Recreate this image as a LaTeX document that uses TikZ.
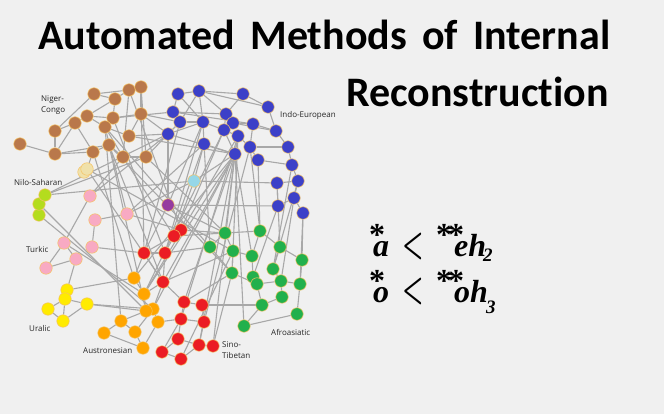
\documentclass[tikz,border=0pt]{standalone}
\usepackage{fontspec}
\newfontfamily\titlefont{Carlito}[Ligatures=NoCommon]
\newfontfamily\labelfont{Open Sans}
\newfontfamily\frmfont{Liberation Serif}
\usetikzlibrary{backgrounds}
\definecolor{bgc}{RGB}{240,240,240}
\definecolor{edgec}{RGB}{168,168,168}
\definecolor{bordc}{RGB}{245,195,100}
\definecolor{cB}{RGB}{185,120,75}
\definecolor{cU}{RGB}{60,64,200}
\definecolor{cLB}{RGB}{150,215,232}
\definecolor{cPU}{RGB}{150,60,160}
\definecolor{cW}{RGB}{240,225,170}
\definecolor{cNS}{RGB}{180,220,30}
\definecolor{cP}{RGB}{248,170,195}
\definecolor{cY}{RGB}{255,235,0}
\definecolor{cO}{RGB}{255,165,0}
\definecolor{cR}{RGB}{235,28,36}
\definecolor{cG}{RGB}{34,176,76}
\newcommand{\myast}{\raisebox{11pt}{\upshape\fontsize{32}{32}\selectfont *}}
\newcommand{\fsubs}[2]{\raisebox{#1}{\fontsize{19}{19}\selectfont #2}}
\begin{document}
\begin{tikzpicture}[x=1pt,y=-1pt,
  nd/.style={circle,inner sep=0pt,minimum size=12.5pt,draw=bordc,line width=0.5pt},
  nB/.style={nd,fill=cB}, nU/.style={nd,fill=cU}, nLB/.style={nd,fill=cLB},
  nPU/.style={nd,fill=cPU}, nW/.style={nd,fill=cW}, nNS/.style={nd,fill=cNS},
  nP/.style={nd,fill=cP}, nY/.style={nd,fill=cY}, nO/.style={nd,fill=cO},
  nR/.style={nd,fill=cR}, nG/.style={nd,fill=cG},
  edge/.style={draw=edgec,line width=1.1pt},
  lab/.style={font=\labelfont\fontsize{8}{11}\selectfont,inner sep=0pt,text=black!85},
  ttl/.style={font=\titlefont\bfseries\fontsize{42}{42}\selectfont,inner sep=0pt},
  flet/.style={font=\frmfont\bfseries\itshape\fontsize{32}{32}\selectfont,inner sep=0pt,anchor=base west},
  flt/.style={font=\bfseries\fontsize{40}{40}\selectfont,inner sep=0pt,anchor=center}]
\useasboundingbox (0,0) rectangle (664,414);
% title
\node[ttl,anchor=base west] (t1) at (38,50) {\makebox[572pt][s]{Automated\hfill Methods\hfill of\hfill Internal}};
\node[ttl,anchor=base east] (t2) at (609,107) {Reconstruction};
% formulas
\node[flet] (f1a) at (369,257) {\myast\kern-12pt a};
\node[flt]  (f1l) at (413,246) {\scalebox{0.6}[1]{<}};
\node[flet] (f1e) at (436,257) {\myast\kern-4pt\myast\kern-10pt eh\kern-3pt\fsubs{-5pt}{2}};
\node[flet] (f2a) at (369,302) {\myast\kern-12pt o};
\node[flt]  (f2l) at (413,291) {\scalebox{0.6}[1]{<}};
\node[flet] (f2e) at (436,302) {\myast\kern-4pt\myast\kern-10pt oh\kern-2pt\fsubs{-11pt}{3}};
% Niger-Congo
\node[nB] (b1) at (94,94) {};
\node[nB] (b2) at (115,99) {};
\node[nB] (b3) at (129,90) {};
\node[nB] (b4) at (141,87) {};
\node[nB] (b5) at (87,116) {};
\node[nB] (b6) at (113,118) {};
\node[nB] (b7) at (141,114) {};
\node[nB] (b8) at (75,123) {};
\node[nB] (b9) at (105,127) {};
\node[nB] (b10) at (55,131) {};
\node[nB] (b11) at (129,136) {};
\node[nB] (b12) at (20,144) {};
\node[nB] (b13) at (109,145) {};
\node[nB] (b14) at (55,154) {};
\node[nB] (b15) at (93,152) {};
\node[nB] (b16) at (123,157) {};
\node[nB] (b17) at (146,157) {};
% Indo-European
\node[nU] (u1) at (178,94) {};
\node[nU] (u2) at (199,91) {};
\node[nU] (u3) at (243,94) {};
\node[nU] (u4) at (268,107) {};
\node[nU] (u5) at (173,112) {};
\node[nU] (u6) at (226,114) {};
\node[nU] (u7) at (180,122) {};
\node[nU] (u8) at (203,122) {};
\node[nU] (u9) at (233,123) {};
\node[nU] (u10) at (253,124) {};
\node[nU] (u11) at (224,130) {};
\node[nU] (u12) at (276,131) {};
\node[nU] (u13) at (168,134) {};
\node[nU] (u14) at (238,136) {};
\node[nU] (u15) at (204,144) {};
\node[nU] (u16) at (250,147) {};
\node[nU] (u17) at (288,147) {};
\node[nU] (u18) at (235,154) {};
\node[nU] (u19) at (258,160) {};
\node[nU] (u20) at (292,165) {};
\node[nU] (u21) at (277,183) {};
\node[nU] (u22) at (298,181) {};
\node[nU] (u23) at (294,198) {};
\node[nU] (u24) at (278,206) {};
\node[nU] (u25) at (303,213) {};
\node[nLB] (lb) at (194,181) {};
\node[nPU] (pu) at (168,205) {};
\node[nW] (w2) at (84,172) {};
\node[nW] (w1) at (87,169) {};
% Nilo-Saharan
\node[nNS] (ns3) at (39,215) {};
\node[nNS] (ns2) at (39,204) {};
\node[nNS] (ns1) at (45,195) {};
% Turkic
\node[nP] (p1) at (90,196) {};
\node[nP] (p2) at (127,214) {};
\node[nP] (p3) at (95,220) {};
\node[nP] (p4) at (64,243) {};
\node[nP] (p5) at (92,247) {};
\node[nP] (p6) at (76,259) {};
\node[nP] (p7) at (46,268) {};
% Uralic
\node[nY] (y1) at (67,290) {};
\node[nY] (y2) at (65,299) {};
\node[nY] (y3) at (87,304) {};
\node[nY] (y4) at (48,309) {};
\node[nY] (y5) at (63,321) {};
% Austronesian
\node[nO] (o1) at (134,278) {};
\node[nO] (o2) at (144,294) {};
\node[nO] (o3) at (153,309) {};
\node[nO] (o4) at (146,311) {};
\node[nO] (o5) at (158,322) {};
\node[nO] (o6) at (121,321) {};
\node[nO] (o7) at (135,332) {};
\node[nO] (o8) at (104,333) {};
\node[nO] (o9) at (143,348) {};
% Sino-Tibetan
\node[nR] (r1) at (181,230) {};
\node[nR] (r2) at (174,236) {};
\node[nR] (r3) at (144,253) {};
\node[nR] (r4) at (165,253) {};
\node[nR] (r5) at (163,282) {};
\node[nR] (r6) at (184,302) {};
\node[nR] (r7) at (202,305) {};
\node[nR] (r8) at (181,319) {};
\node[nR] (r9) at (204,322) {};
\node[nR] (r10) at (178,339) {};
\node[nR] (r11) at (199,345) {};
\node[nR] (r12) at (213,346) {};
\node[nR] (r13) at (162,352) {};
\node[nR] (r14) at (181,359) {};
% Afroasiatic
\node[nG] (g1) at (225,233) {};
\node[nG] (g2) at (260,231) {};
\node[nG] (g3) at (210,247) {};
\node[nG] (g4) at (233,251) {};
\node[nG] (g5) at (280,247) {};
\node[nG] (g6) at (252,256) {};
\node[nG] (g7) at (302,260) {};
\node[nG] (g8) at (273,269) {};
\node[nG] (g9) at (232,273) {};
\node[nG] (g10) at (253,277) {};
\node[nG] (g11) at (257,284) {};
\node[nG] (g12) at (281,281) {};
\node[nG] (g13) at (300,284) {};
\node[nG] (g14) at (282,297) {};
\node[nG] (g15) at (262,305) {};
\node[nG] (g16) at (297,314) {};
\node[nG] (g17) at (244,326) {};
% labels
\node[lab,anchor=north west,align=left] (lNC) at (41,95) {Niger-\\Congo};
\node[lab,anchor=west] (lIE) at (280,115) {Indo-European};
\node[lab,anchor=west] (lNS) at (14,183) {Nilo-Saharan};
\node[lab,anchor=west] (lTK) at (26,250) {Turkic};
\node[lab,anchor=west] (lUR) at (29,328) {Uralic};
\node[lab,anchor=west] (lAN) at (83,351) {Austronesian};
\node[lab,anchor=north west,align=left] (lST) at (222,341) {Sino-\\Tibetan};
\node[lab,anchor=west] (lAA) at (271,332) {Afroasiatic};
% background and edges
\begin{scope}[on background layer]
\fill[bgc] (0,0) rectangle (664,414);
\foreach \a/\b in {b1/b2, b1/b3, b2/b3, b3/b4, b1/b10, b2/b5, b5/b6, b5/b8, b6/b7, b6/b9,
  b8/b10, b8/b14, b8/b15, b10/b14, b12/b14, b14/b15, b14/b13, b9/b11, b9/b16, b13/b16,
  b11/b7, b16/b17, b4/b7, b3/b16, b4/b17, b15/b13, b5/b9, b2/b6,
  b7/u13, b11/u13, b17/u13, b6/u5, b9/g3, b6/r4, b13/g9, b3/r1, b4/r3, b7/u7, b16/r2,
  b17/g1, b11/u18, b15/o1, b13/r5, b9/p2,
  w1/r5, w1/g4, w1/b15,
  ns1/ns2, ns2/ns3, ns1/u13, ns1/b17, ns2/o4, ns3/o3, ns1/lb,
  p1/p4, p1/u13, p1/b16, p2/p3, p3/p5, p2/u15, p2/r1, p4/p6, p4/p7, p6/p7, p6/y1, p5/r3,
  p4/o2, p2/lb,
  lb/u15, lb/u18, lb/u21, lb/r2,
  pu/u24, pu/r3, pu/u13, pu/u8, pu/g1,
  y1/o1, y1/y2, y2/y3, y2/y4, y2/y5, y4/y5, y5/y3, y3/o4, y3/o3,
  o1/o2, o2/o4, o3/o4, o3/o5, o4/o6, o6/o7, o6/o8, o7/o9, o8/o9, o5/o9, o5/r8, o2/r5,
  o3/r5, o1/u18, o2/u14, o4/b13, o1/r3, o7/o3, o6/b9, o2/u11,
  r1/r2, r2/r3, r2/r4, r3/r4, r4/r5, r3/r5, r5/r6, r6/r7, r6/r8, r7/r9, r8/r9, r8/r10,
  r9/r11, r10/r11, r10/r13, r11/r14, r13/r14, r11/r12, r12/u18, r11/u14, r7/g15, r1/g1,
  r2/g1, r4/g3, r5/g4, r6/g9, r3/u7, r4/u8, r1/u11, r9/u16, r14/g4, r12/g9, r13/r8,
  g1/g2, g1/g3, g1/g4, g2/g5, g2/g6, g4/g9, g4/g6, g5/g7, g6/g10, g7/g13, g8/g12,
  g10/g11, g11/g12, g12/g13, g12/g14, g13/g16, g14/g15, g11/g15, g15/g17, g16/g17,
  g9/g11, g5/g8, g3/g9,
  g2/u16, g2/u19, g5/u21, g7/u25, g8/u22, g6/u18, g1/u18, g9/u14, g3/u15, g10/u24,
  g12/u23, g13/u25, g17/u18, g8/u20,
  u1/u2, u2/u3, u2/u6, u3/u4, u3/u6, u1/u5, u5/u7, u5/u6, u7/u8, u7/u2, u8/u2, u13/u7,
  u13/u8, u8/u15, u6/u9, u6/u11, u9/u10, u10/u12, u4/u12, u12/u17, u17/u20, u16/u19,
  u14/u16, u11/u14, u18/u14, u18/u11, u20/u22, u21/u22, u22/u23, u23/u24, u23/u25,
  u21/u24, u9/u12, u8/u11, u15/u18, u16/u17, u19/u20, u10/u16, u2/u4, u5/u10, u13/u18,
  u1/u8, u15/r4, u18/o2, u18/r5, u18/r6, u18/o3, u14/r8}
  \draw[edge] (\a) -- (\b);
\end{scope}
\end{tikzpicture}
\end{document}
